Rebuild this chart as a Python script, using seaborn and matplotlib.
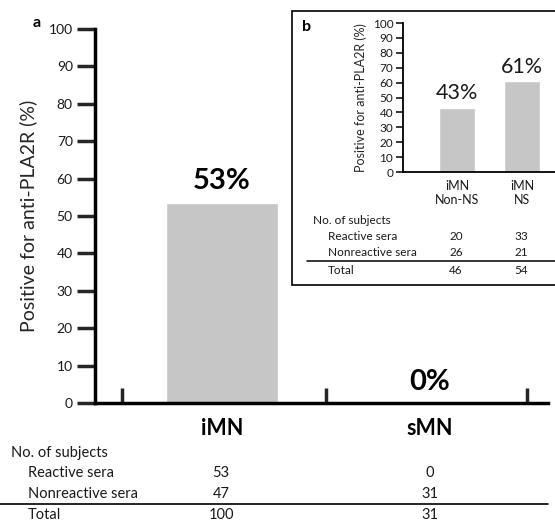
import pandas as pd
import seaborn as sns
import matplotlib.pyplot as plt
from matplotlib.patches import Rectangle

# main panel (a)
groups = ['iMN', 'sMN']
positive_pct = [53.6, 0]
pct_labels = ['53%', '0%']
reactive = [53, 0]
nonreactive = [47, 31]
total = [100, 31]

# inset panel (b)
sub_groups = ['iMN\nNon-NS', 'iMN\nNS']
sub_pct = [43, 61]
sub_labels = ['43%', '61%']
sub_reactive = [20, 33]
sub_nonreactive = [26, 21]
sub_total = [46, 54]

BAR = '#c6c6c6'
W, H = 555, 521

sns.set_style('white')
plt.rcParams['font.family'] = ['Lato', 'DejaVu Sans']
plt.rcParams['text.color'] = '#1a1a1a'


def fx(px):
    return px / W


def fy(py):
    return 1 - py / H


fig = plt.figure(figsize=(5.55, 5.21), dpi=100)

# ---- panel a ----
ax = fig.add_axes([fx(95), fy(403), fx(548 - 95), (403 - 29) / H])
df = pd.DataFrame({'group': groups, 'pct': positive_pct})
sns.barplot(data=df, x='group', y='pct', color=BAR, width=0.54, ax=ax, zorder=2)
ax.set_xlim(-0.61, 1.57)
ax.set_ylim(0, 100)
ax.set_yticks(range(0, 101, 10))
sns.despine(ax=ax)
for s in ['left', 'bottom']:
    ax.spines[s].set_linewidth(2.5)
    ax.spines[s].set_color('black')
ax.tick_params(axis='y', direction='out', length=13, width=2.5, labelsize=10, pad=3,
               left=True, labelcolor='#1a1a1a')
ax.set_xticks([-0.48, 0.5, 1.47], minor=True)
ax.tick_params(axis='x', which='minor', direction='in', length=11, width=2.5, bottom=True)
ax.tick_params(axis='x', which='major', length=0, pad=11)
for t in ax.get_xticklabels():
    t.set_fontsize(15.5)
    t.set_fontweight('bold')
    t.set_color('black')
ax.set_xlabel('')
ax.set_ylabel('Positive for anti-PLA2R (%)', fontsize=14, labelpad=8)
for i, (v, lab) in enumerate(zip(positive_pct, pct_labels)):
    ax.text(i, v + 2.2, lab, ha='center', va='bottom', fontsize=21, fontweight='bold',
            color='black')
fig.text(fx(33), fy(23), 'a', fontsize=11.5, fontweight='bold', ha='left', va='center',
         color='black')

# table under panel a
col_x = [fx(221), fx(430)]
fig.text(fx(11), fy(453), 'No. of subjects', fontsize=10.5, va='center')
rows = [('Reactive sera', reactive, 473), ('Nonreactive sera', nonreactive, 494),
        ('Total', total, 515)]
for name, vals, y in rows:
    fig.text(fx(28), fy(y), name, fontsize=10.5, va='center')
    for cx, v in zip(col_x, vals):
        fig.text(cx, fy(y), str(v), fontsize=10.5, ha='center', va='center')
fig.add_artist(plt.Line2D([0, fx(548)], [fy(504), fy(504)], color='black', lw=1.2))

# ---- panel b (inset) ----
fig.add_artist(Rectangle((fx(292), fy(285)), fx(563 - 292), (285 - 11) / H,
                         facecolor='white', edgecolor='black', lw=1.2, zorder=3,
                         transform=fig.transFigure))
ax2 = fig.add_axes([fx(403), fy(172), fx(555 - 403), (172 - 23) / H], zorder=4)
ax2.patch.set_alpha(0)
df2 = pd.DataFrame({'group': sub_groups, 'pct': sub_pct})
sns.barplot(data=df2, x='group', y='pct', color=BAR, width=0.55, ax=ax2)
ax2.set_xlim(-0.83, 1.51)
ax2.set_ylim(0, 100)
ax2.set_yticks(range(0, 101, 10))
sns.despine(ax=ax2)
for s in ['left', 'bottom']:
    ax2.spines[s].set_linewidth(1.3)
    ax2.spines[s].set_color('black')
ax2.tick_params(axis='y', direction='out', length=5, width=1.3, labelsize=8.5, pad=2,
                left=True, labelcolor='#1a1a1a')
ax2.tick_params(axis='x', length=0, labelsize=9, pad=6, labelcolor='#1a1a1a')
ax2.set_xlabel('')
ax2.set_ylabel('Positive for anti-PLA2R (%)', fontsize=9, labelpad=4)
for i, (v, lab) in enumerate(zip(sub_pct, sub_labels)):
    ax2.text(i, v + 3, lab, ha='center', va='bottom', fontsize=15.5)
fig.text(fx(302), fy(27), 'b', fontsize=11.5, fontweight='bold', va='center', zorder=5,
         color='black')

sub_x = [fx(456), fx(521)]
fig.text(fx(313), fy(220), 'No. of subjects', fontsize=8.5, va='center', zorder=5)
sub_rows = [('Reactive sera', sub_reactive, 236), ('Nonreactive sera', sub_nonreactive, 253),
            ('Total', sub_total, 270)]
for name, vals, y in sub_rows:
    fig.text(fx(328), fy(y), name, fontsize=8.5, va='center', zorder=5)
    for cx, v in zip(sub_x, vals):
        fig.text(cx, fy(y), str(v), fontsize=8.5, ha='center', va='center', zorder=5)
fig.add_artist(plt.Line2D([fx(307), fx(555)], [fy(261), fy(261)], color='black', lw=1.1,
                          zorder=5))

fig.savefig('out.png', dpi=100)
